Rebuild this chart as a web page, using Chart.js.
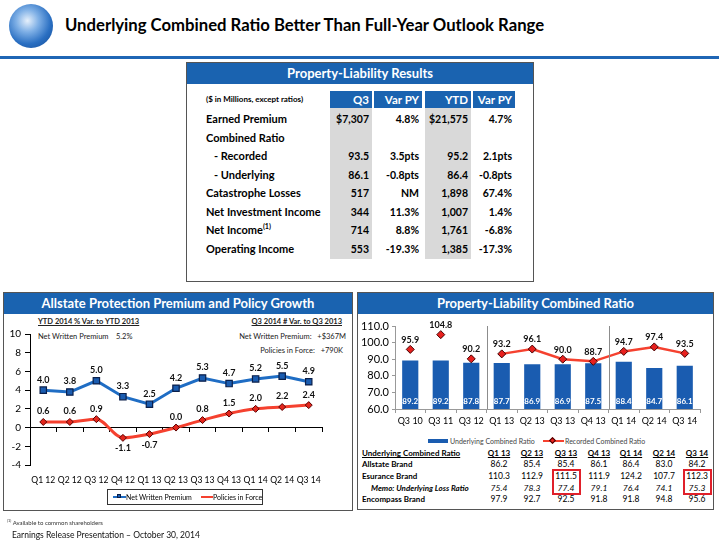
<!DOCTYPE html>
<html>
<head>
<meta charset="utf-8">
<script src="https://cdn.jsdelivr.net/npm/chart.js@4.4.1/dist/chart.umd.min.js"></script>
<style>
  body { margin: 0; width: 720px; height: 540px; position: relative; background: #fff;
         font-family: Lato, "Open Sans", sans-serif; color: #000; overflow: hidden; }
  .abs { position: absolute; white-space: nowrap; }
  #logo { left: 9px; top: 4px; width: 44px; height: 44px; border-radius: 50%;
          background: radial-gradient(circle at 42% 38%, #e6f0fb 0%, #7fb0e6 30%, #2a6fc2 62%, #0f4690 100%); }
  #title { left: 65px; top: 15px; font-size: 16.7px; font-weight: bold; }
  #rule { left: 0; top: 56px; width: 719px; height: 3px; background: #1f66b5; }
  .panel { border: 1px solid #555; box-sizing: border-box; }
  .phead { background: #1a63b0; color: #fff; font-weight: bold; text-align: center; box-sizing: border-box; }
  .cell { position: absolute; box-sizing: border-box; white-space: nowrap; }
  .tiny { font-size: 7.5px; color: #222; }
  .ul { text-decoration: underline; font-weight: bold; }
  sup { font-size: 65%; line-height: 0; }
</style>
</head>
<body>

<div id="logo" class="abs"></div>
<div id="title" class="abs">Underlying Combined Ratio Better Than Full-Year Outlook Range</div>
<div id="rule" class="abs"></div>

<!-- Property-Liability Results -->
<div id="results" class="abs panel" style="left:186px; top:62px; width:348px; height:220px;">
  <div class="phead" style="height:21px; line-height:21px; font-size:13px;">Property-Liability Results</div>
</div>

<!-- left panel -->
<div class="abs panel" style="left:3px; top:292px; width:350px; height:219px;">
  <div class="phead" style="height:21px; line-height:21px; font-size:13px;">Allstate Protection Premium and Policy Growth</div>
</div>
<div class="abs tiny ul" style="left:38px; top:317px;">YTD 2014 % Var. to YTD 2013</div>
<div class="abs tiny" style="left:38px; top:332px;">Net Written Premium<span style="position:absolute; left:78px;">5.2%</span></div>
<div class="abs tiny ul" style="right:378px; top:317px;">Q3 2014 # Var. to Q3 2013</div>
<div class="abs tiny" style="right:374px; top:332px;">Net Written Premium:&nbsp;&nbsp; +$367M</div>
<div class="abs tiny" style="right:377px; top:346px;">Policies in Force:&nbsp;&nbsp; +790K</div>
<div class="abs" style="left:4px; top:314px; width:346px; height:176px;"><canvas id="growthChart"></canvas></div>
<div class="abs" style="left:107px; top:489px; width:154px; height:14px; border:1px solid #333; font-size:7px; line-height:14px;">
  <span class="abs" style="left:5px; top:6px; width:13px; height:2px; background:#1f6dc4;"></span>
  <span class="abs" style="left:9px; top:4px; width:4px; height:4px; background:#1a5cb0; border:1px solid #0a1f4a; box-sizing:border-box;"></span>
  <span class="abs" style="left:18px; top:0;">Net Written Premium</span>
  <span class="abs" style="left:93px; top:6px; width:12px; height:2px; background:#f5412f;"></span>
  <span class="abs" style="left:105px; top:0;">Policies in Force</span>
</div>

<!-- right panel -->
<div class="abs panel" style="left:357px; top:292px; width:357px; height:218px;">
  <div class="phead" style="height:21px; line-height:21px; font-size:13px;">Property-Liability Combined Ratio</div>
</div>
<div class="abs" style="left:360px; top:314px; width:354px; height:118px;"><canvas id="ratioChart"></canvas></div>
<div class="abs" style="left:428px; top:436px; font-size:7px; color:#444; line-height:10px;">
  <span class="abs" style="left:0; top:3px; width:20px; height:4px; background:#1a5cb0;"></span>
  <span class="abs" style="left:22px; top:0;">Underlying Combined Ratio</span>
  <span class="abs" style="left:115px; top:4px; width:21px; height:2px; background:#f5412f;"></span>
  <span class="abs" style="left:122px; top:2px; width:5px; height:5px; background:#e8201e; border:1px solid #400; box-sizing:border-box; transform:rotate(45deg);"></span>
  <span class="abs" style="left:137px; top:0;">Recorded Combined Ratio</span>
</div>
<div id="brandTable" class="abs" style="left:0; top:0;"></div>

<div class="abs" style="left:7px; top:519px; font-size:6px; color:#333;"><sup>(1)</sup> Available to common shareholders</div>
<div class="abs" style="left:12px; top:530px; font-size:8.5px; color:#111;">Earnings Release Presentation – October 30, 2014</div>

<script>
// ---- Property-Liability Results table ----
const resultRows = ['Earned Premium', 'Combined Ratio', '- Recorded', '- Underlying', 'Catastrophe Losses',
                    'Net Investment Income', 'Net Income<sup>(1)</sup>', 'Operating Income'];
const resultIndent = [0, 0, 1, 1, 0, 0, 0, 0];
const q3Values = ['$7,307', '', '93.5', '86.1', '517', '344', '714', '553'];
const q3VarPY = ['4.8%', '', '3.5pts', '-0.8pts', 'NM', '11.3%', '8.8%', '-19.3%'];
const ytdValues = ['$21,575', '', '95.2', '86.4', '1,898', '1,007', '1,761', '1,385'];
const ytdVarPY = ['4.7%', '', '2.1pts', '-0.8pts', '67.4%', '1.4%', '-6.8%', '-17.3%'];
const resultHeaders = ['Q3', 'Var PY', 'YTD', 'Var PY'];

// ---- Allstate Protection growth chart ----
const growthQuarters = ['Q1 12', 'Q2 12', 'Q3 12', 'Q4 12', 'Q1 13', 'Q2 13', 'Q3 13', 'Q4 13', 'Q1 14', 'Q2 14', 'Q3 14'];
const nwpGrowth = [4.0, 3.8, 5.0, 3.3, 2.5, 4.2, 5.3, 4.7, 5.2, 5.5, 4.9];
const pifGrowth = [0.6, 0.6, 0.9, -1.1, -0.7, 0.0, 0.8, 1.5, 2.0, 2.2, 2.4];

// ---- Combined ratio chart ----
const ratioPeriods = ['Q3 10', 'Q3 11', 'Q3 12', 'Q1 13', 'Q2 13', 'Q3 13', 'Q4 13', 'Q1 14', 'Q2 14', 'Q3 14'];
const underlyingRatio = [89.2, 89.2, 87.8, 87.7, 86.9, 86.9, 87.5, 88.4, 84.7, 86.1];
const recordedRatio = [95.9, 104.8, 90.2, 93.2, 96.1, 90.0, 88.7, 94.7, 97.4, 93.5];
const groupStarts = [3, 7];   // first quarterly point and 2014 start

// ---- Underlying combined ratio by brand ----
const brandQuarters = ['Q1 13', 'Q2 13', 'Q3 13', 'Q4 13', 'Q1 14', 'Q2 14', 'Q3 14'];
const allstateBrand = [86.2, 85.4, 85.4, 86.1, 86.4, 83.0, 84.2];
const esuranceBrand = [110.3, 112.9, 111.5, 111.9, 124.2, 107.7, 112.3];
const esuranceLossRatio = [75.4, 78.3, 77.4, 79.1, 76.4, 74.1, 75.3];
const encompassBrand = [97.9, 92.7, 92.5, 91.8, 91.8, 94.8, 95.6];
const highlightCols = [2, 6];

function addCell(parent, html, css) {
  const d = document.createElement('div');
  d.className = 'cell';
  d.innerHTML = html;
  Object.assign(d.style, css);
  parent.appendChild(d);
  return d;
}

// results table (coordinates relative to the box)
const results = document.getElementById('results');
const colLeft = [143, 187, 238, 286];
const colWidth = [42, 48, 46, 42];
const rowTop = 47, rowStep = 18.5;
addCell(results, '($ in Millions, except ratios)', {left: '19px', top: '31px', fontSize: '8px', fontWeight: 'bold'});
resultHeaders.forEach((h, c) => {
  addCell(results, h, {left: colLeft[c] + 'px', top: '28px', width: colWidth[c] + 'px', height: '17px',
    background: '#1a63b0', color: '#fff', fontWeight: 'bold', fontSize: '11.5px', lineHeight: '17px',
    textAlign: 'right', paddingRight: '3px'});
});
[0, 2].forEach(c => addCell(results, '', {left: colLeft[c] + 'px', top: '45px', width: colWidth[c] + 'px',
  height: (rowStep * resultRows.length + 3) + 'px', background: '#d9d9d9'}));
const colValues = [q3Values, q3VarPY, ytdValues, ytdVarPY];
resultRows.forEach((label, r) => {
  const top = (rowTop + r * rowStep) + 'px';
  addCell(results, label, {left: (19 + resultIndent[r] * 8) + 'px', top: top, fontSize: '11px',
    fontWeight: 'bold', lineHeight: '18px'});
  colValues.forEach((vals, c) => {
    addCell(results, vals[r], {left: colLeft[c] + 'px', top: top, width: colWidth[c] + 'px', fontSize: '10.5px',
      fontWeight: 'bold', lineHeight: '18px', textAlign: 'right', paddingRight: '3px'});
  });
});

// brand table (page coordinates)
const brand = document.getElementById('brandTable');
const brandColCenter = [499, 532, 566, 599, 631, 664, 697];
const brandRowTop = [447, 458, 470, 482, 493];
const brandRows = [
  ['Allstate Brand', allstateBrand, false],
  ['Esurance Brand', esuranceBrand, false],
  ['<span style="margin-left:9px">Memo: Underlying Loss Ratio</span>', esuranceLossRatio, true],
  ['Encompass Brand', encompassBrand, false]
];
addCell(brand, 'Underlying Combined Ratio', {left: '362px', top: brandRowTop[0] + 'px', fontSize: '8px',
  fontWeight: 'bold', textDecoration: 'underline', lineHeight: '12px'});
brandQuarters.forEach((q, c) => addCell(brand, q, {left: (brandColCenter[c] - 20) + 'px', width: '40px',
  top: brandRowTop[0] + 'px', fontSize: '8px', fontWeight: 'bold', textDecoration: 'underline',
  textAlign: 'center', lineHeight: '12px'}));
brandRows.forEach(([label, vals, italic], r) => {
  const top = brandRowTop[r + 1] + 'px';
  addCell(brand, label, {left: '362px', top: top, fontSize: '8px', fontWeight: 'bold',
    fontStyle: italic ? 'italic' : 'normal', lineHeight: '12px'});
  vals.forEach((v, c) => addCell(brand, v.toFixed(1), {left: (brandColCenter[c] - 20) + 'px', width: '40px',
    top: top, fontSize: '8.5px', textAlign: 'center', fontStyle: italic ? 'italic' : 'normal', lineHeight: '12px'}));
});
highlightCols.forEach(c => addCell(brand, '', {left: (brandColCenter[c] - 14) + 'px', top: '469px', width: '29px',
  height: '26px', border: '2px solid #e0202a'}));

// value labels drawn at each element's position
const pointLabels = {
  id: 'pointLabels',
  afterDatasetsDraw(chart) {
    const ctx = chart.ctx;
    ctx.save();
    ctx.textAlign = 'center';
    chart.data.datasets.forEach((ds, i) => {
      const meta = chart.getDatasetMeta(i);
      if (!ds.labelMode) return;
      meta.data.forEach((el, j) => {
        const v = ds.data[j];
        ctx.font = 'bold ' + (ds.labelSize || 9) + 'px Lato, sans-serif';
        if (ds.labelMode === 'inside') {
          ctx.fillStyle = '#fff';
          ctx.textBaseline = 'bottom';
          ctx.fillText(v.toFixed(1), el.x, chart.scales.y.bottom - 4);
        } else if (ds.labelMode === 'above' || v >= 0) {
          ctx.fillStyle = '#111';
          ctx.textBaseline = 'bottom';
          ctx.fillText(v.toFixed(1), el.x, el.y - (ds.labelGap || 6));
        } else {
          ctx.fillStyle = '#111';
          ctx.textBaseline = 'top';
          ctx.fillText(v.toFixed(1), el.x, el.y + (ds.labelGap || 6));
        }
      });
    });
    ctx.restore();
  }
};

const groupLines = {
  id: 'groupLines',
  afterDatasetsDraw(chart) {
    if (!chart.options.plugins.groupLines) return;
    const {ctx, chartArea, scales} = chart;
    ctx.save();
    ctx.strokeStyle = '#8c8c8c';
    ctx.lineWidth = 1;
    chart.options.plugins.groupLines.starts.forEach(i => {
      const x = Math.round((scales.x.getPixelForValue(i - 1) + scales.x.getPixelForValue(i)) / 2) + 0.5;
      ctx.beginPath();
      ctx.moveTo(x, chartArea.top);
      ctx.lineTo(x, chartArea.bottom);
      ctx.stroke();
    });
    ctx.restore();
  }
};

Chart.defaults.font.family = 'Lato, sans-serif';
Chart.defaults.color = '#000';

new Chart(document.getElementById('growthChart'), {
  type: 'line',
  data: {
    labels: growthQuarters,
    datasets: [
      {
        label: 'Net Written Premium',
        data: nwpGrowth,
        borderColor: '#1f6dc4',
        borderWidth: 3,
        tension: 0,
        pointStyle: 'rect',
        pointRadius: 4.5,
        pointBackgroundColor: '#1a5cb0',
        pointBorderColor: '#0a1f4a',
        pointBorderWidth: 1.2,
        labelMode: 'auto',
        labelGap: 6
      },
      {
        label: 'Policies in Force',
        data: pifGrowth,
        borderColor: '#f5412f',
        borderWidth: 3,
        cubicInterpolationMode: 'monotone',
        pointStyle: 'rectRot',
        pointRadius: 3.5,
        pointBackgroundColor: '#e3261c',
        pointBorderColor: '#5a0000',
        pointBorderWidth: 1,
        labelMode: 'auto',
        labelGap: 6
      }
    ]
  },
  options: {
    responsive: true,
    maintainAspectRatio: false,
    animation: false,
    layout: { padding: { top: 20, right: 28, left: 0, bottom: 0 } },
    plugins: { legend: { display: false }, tooltip: { enabled: false } },
    scales: {
      y: {
        min: -4, max: 10,
        ticks: { stepSize: 2, font: { size: 10 }, padding: 4 },
        grid: { drawOnChartArea: false, tickLength: 5, color: '#000' },
        border: { color: '#000' },
        afterFit(s) { s.width = 26; }
      },
      x: {
        position: 'bottom',
        offset: true,
        ticks: { font: { size: 8.6 }, maxRotation: 0, autoSkip: false, padding: 2 },
        grid: { display: false },
        border: { display: false },
        afterFit(s) { s.height = 25; }
      },
      x2: {
        type: 'category',
        position: { y: 0 },
        offset: true,
        ticks: { display: false },
        grid: { drawOnChartArea: false, offset: true, tickLength: 4, color: '#000' },
        border: { color: '#000' }
      }
    }
  },
  plugins: [pointLabels]
});

new Chart(document.getElementById('ratioChart'), {
  data: {
    labels: ratioPeriods,
    datasets: [
      {
        type: 'line',
        label: 'Recorded Combined Ratio',
        data: recordedRatio,
        order: 0,
        borderColor: '#f5412f',
        borderWidth: 2.5,
        tension: 0,
        segment: { borderColor: c => c.p0DataIndex < groupStarts[0] ? 'transparent' : '#f5412f' },
        pointStyle: 'rectRot',
        pointRadius: 4,
        pointBackgroundColor: '#e8201e',
        pointBorderColor: '#400',
        pointBorderWidth: 1,
        labelMode: 'above',
        labelGap: 5
      },
      {
        type: 'bar',
        label: 'Underlying Combined Ratio',
        data: underlyingRatio,
        order: 1,
        backgroundColor: '#1a5cb0',
        barPercentage: 0.53,
        categoryPercentage: 1,
        labelMode: 'inside',
        labelSize: 8
      }
    ]
  },
  options: {
    responsive: true,
    maintainAspectRatio: false,
    animation: false,
    layout: { padding: { top: 12, right: 14, left: 0, bottom: 0 } },
    plugins: { legend: { display: false }, tooltip: { enabled: false }, groupLines: { starts: groupStarts } },
    scales: {
      y: {
        min: 60, max: 110,
        ticks: { stepSize: 10, font: { size: 11 }, padding: 3, callback: v => v.toFixed(1) },
        grid: { drawOnChartArea: false, tickLength: 3, color: '#999' },
        border: { color: '#999' },
        afterFit(s) { s.width = 35; }
      },
      x: {
        offset: true,
        ticks: { font: { size: 9 }, maxRotation: 0, autoSkip: false, padding: 3 },
        grid: { drawOnChartArea: false, offset: true, tickLength: 4, color: '#999' },
        border: { color: '#999' },
        afterFit(s) { s.height = 23; }
      }
    }
  },
  plugins: [pointLabels, groupLines]
});
</script>
</body>
</html>
